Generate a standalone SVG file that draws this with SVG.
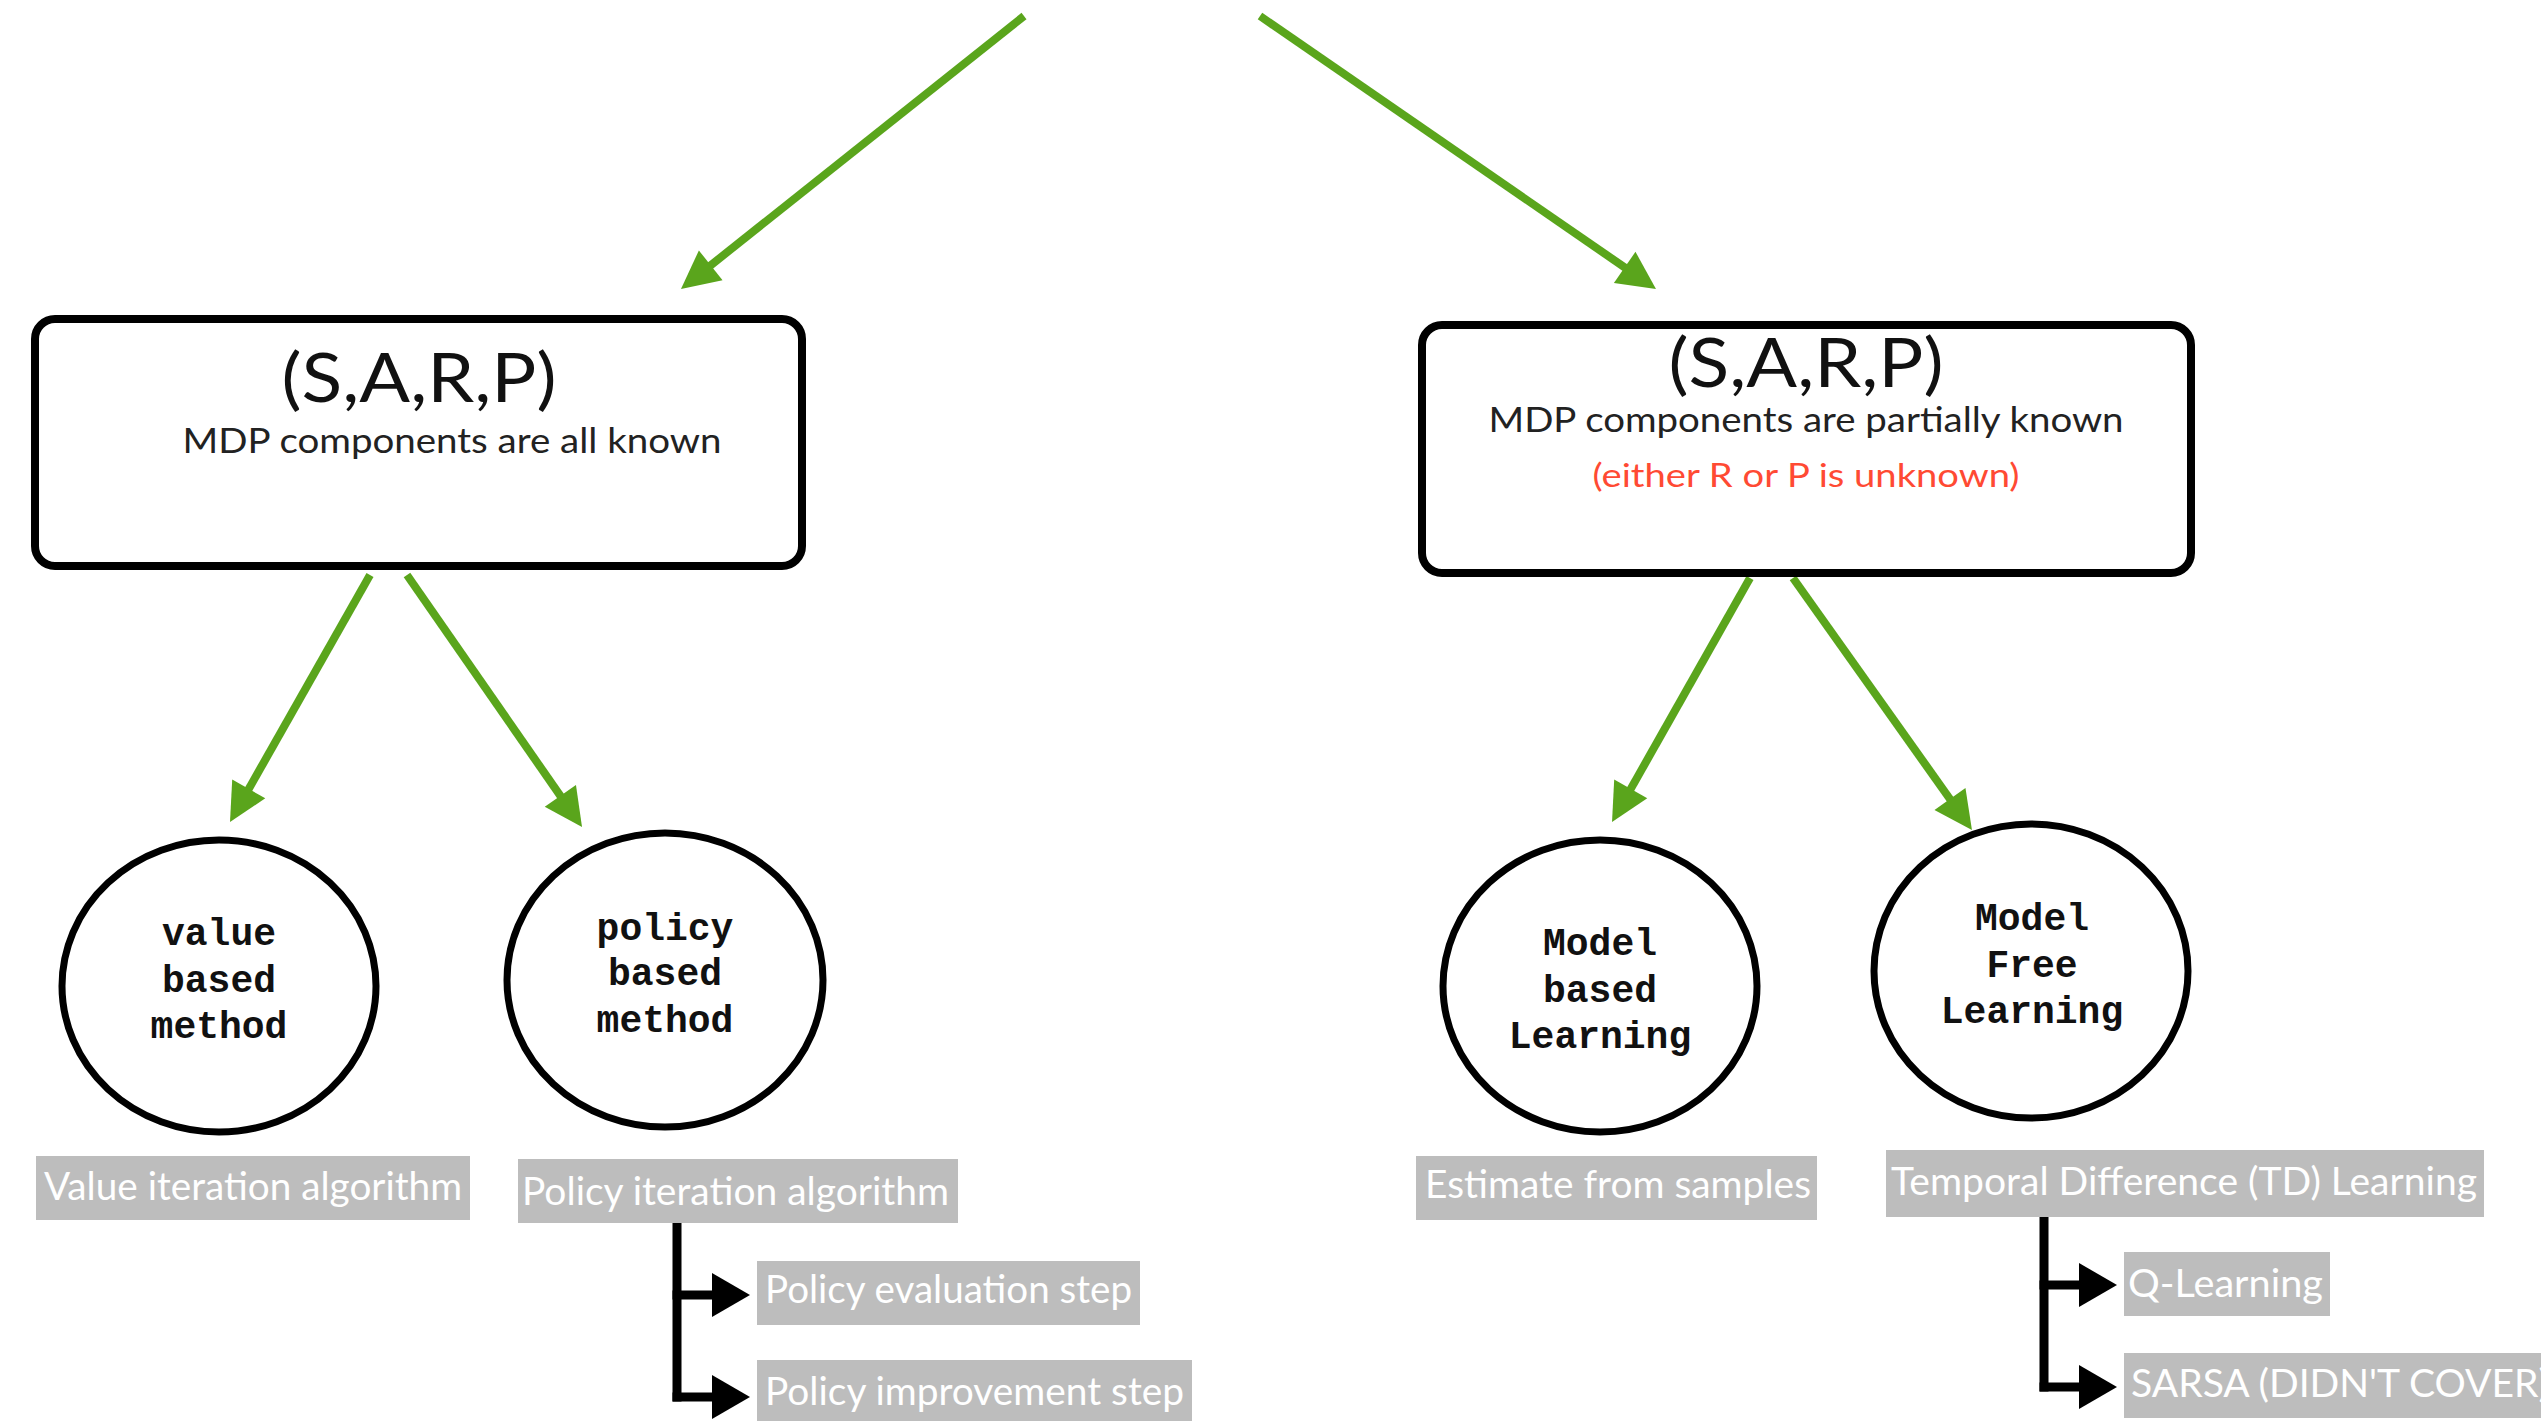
<svg xmlns="http://www.w3.org/2000/svg" width="2541" height="1421" viewBox="0 0 2541 1421">
<defs>
<marker id="gh" markerUnits="userSpaceOnUse" markerWidth="40" markerHeight="40" refX="22" refY="19" orient="auto" overflow="visible">
<path d="M0,0 L38,19 L0,38 z" fill="#5aa51c"/>
</marker>
<marker id="bh" markerUnits="userSpaceOnUse" markerWidth="40" markerHeight="46" refX="23" refY="22" orient="auto" overflow="visible">
<path d="M0,0 L38,22 L0,44 z" fill="#000"/>
</marker>
<style>
.box{fill:#fff;stroke:#000;stroke-width:8}
.circ{fill:#fff;stroke:#000;stroke-width:7}
.title{font-family:Lato,"Noto Sans",sans-serif;font-size:68px;fill:#111;text-anchor:middle}
.sub{font-family:Lato,"Noto Sans",sans-serif;font-size:35px;fill:#222;text-anchor:middle}
.red{font-family:Lato,"Noto Sans",sans-serif;font-size:32px;fill:#ff4a33;text-anchor:middle}
.mono{font-family:"Liberation Mono","DejaVu Sans Mono",monospace;font-size:38px;font-weight:bold;fill:#111;text-anchor:middle}
.lab{fill:#bdbdbd}
.lt{font-family:Lato,"Noto Sans",sans-serif;font-size:38px;fill:#fff}
.g{stroke:#5aa51c;stroke-width:8;fill:none;marker-end:url(#gh)}
.k{stroke:#000;stroke-width:9;fill:none}
.ka{stroke:#000;stroke-width:9;fill:none;marker-end:url(#bh)}
</style>
</defs>
<rect width="2541" height="1421" fill="#fff"/>

<g id="connectors">
<line class="g" x1="1024" y1="16" x2="693.5" y2="279"/>
<line class="g" x1="1260" y1="16" x2="1642.8" y2="279.9"/>
<line class="g" x1="370" y1="575" x2="237.9" y2="808.1"/>
<line class="g" x1="407" y1="575" x2="572.9" y2="813.9"/>
<line class="g" x1="1750" y1="578" x2="1619.9" y2="808.1"/>
<line class="g" x1="1793" y1="578" x2="1962.7" y2="817"/>
<line class="k" x1="677" y1="1223" x2="677" y2="1401.5"/>
<line class="ka" x1="672.5" y1="1295" x2="735" y2="1295"/>
<line class="ka" x1="672.5" y1="1397" x2="735" y2="1397"/>
<line class="k" x1="2044" y1="1217" x2="2044" y2="1391.5"/>
<line class="ka" x1="2039.5" y1="1285" x2="2102" y2="1285"/>
<line class="ka" x1="2039.5" y1="1387" x2="2102" y2="1387"/>
</g>

<g id="box-known">
<rect class="box" x="35" y="319" width="767" height="247" rx="20"/>
<text class="title" x="419" y="402" textLength="275" lengthAdjust="spacingAndGlyphs">(S,A,R,P)</text>
<text class="sub" x="452" y="453" textLength="539" lengthAdjust="spacingAndGlyphs">MDP components are all known</text>
</g>

<g id="box-partial">
<rect class="box" x="1422" y="325" width="769" height="248" rx="20"/>
<text class="title" x="1806" y="387" textLength="275" lengthAdjust="spacingAndGlyphs">(S,A,R,P)</text>
<text class="sub" x="1806" y="432" textLength="635" lengthAdjust="spacingAndGlyphs">MDP components are partially known</text>
<text class="red" x="1806" y="487" textLength="427" lengthAdjust="spacingAndGlyphs">(either R or P is unknown)</text>
</g>

<g id="node-value">
<ellipse class="circ" cx="219" cy="986" rx="157" ry="146"/>
<text class="mono" x="219" y="945">value</text>
<text class="mono" x="219" y="992">based</text>
<text class="mono" x="219" y="1038">method</text>
</g>

<g id="node-policy">
<ellipse class="circ" cx="665" cy="980" rx="158" ry="147"/>
<text class="mono" x="665" y="940">policy</text>
<text class="mono" x="665" y="985">based</text>
<text class="mono" x="665" y="1032">method</text>
</g>

<g id="node-model-based">
<ellipse class="circ" cx="1600" cy="986" rx="157" ry="146"/>
<text class="mono" x="1600" y="955">Model</text>
<text class="mono" x="1600" y="1002">based</text>
<text class="mono" x="1600" y="1048">Learning</text>
</g>

<g id="node-model-free">
<ellipse class="circ" cx="2031" cy="971" rx="157" ry="147"/>
<text class="mono" x="2032" y="930">Model</text>
<text class="mono" x="2032" y="977">Free</text>
<text class="mono" x="2032" y="1023">Learning</text>
</g>

<g id="label-value-iteration">
<rect class="lab" x="36" y="1156" width="434" height="64"/>
<text class="lt" x="44" y="1200" textLength="418" lengthAdjust="spacingAndGlyphs">Value iteration algorithm</text>
</g>
<g id="label-policy-iteration">
<rect class="lab" x="518" y="1159" width="440" height="64"/>
<text class="lt" x="522" y="1205" textLength="427" lengthAdjust="spacingAndGlyphs">Policy iteration algorithm</text>
</g>
<g id="label-policy-evaluation">
<rect class="lab" x="757" y="1261" width="383" height="64"/>
<text class="lt" x="765" y="1303" textLength="367" lengthAdjust="spacingAndGlyphs">Policy evaluation step</text>
</g>
<g id="label-policy-improvement">
<rect class="lab" x="757" y="1360" width="435" height="70"/>
<text class="lt" x="765" y="1405" textLength="419" lengthAdjust="spacingAndGlyphs">Policy improvement step</text>
</g>
<g id="label-estimate">
<rect class="lab" x="1416" y="1156" width="401" height="64"/>
<text class="lt" x="1425" y="1198" textLength="386" lengthAdjust="spacingAndGlyphs">Estimate from samples</text>
</g>
<g id="label-td">
<rect class="lab" x="1886" y="1150" width="598" height="67"/>
<text class="lt" x="1891" y="1195" textLength="586" lengthAdjust="spacingAndGlyphs">Temporal Difference (TD) Learning</text>
</g>
<g id="label-q">
<rect class="lab" x="2124" y="1252" width="206" height="64"/>
<text class="lt" x="2128" y="1297" textLength="195" lengthAdjust="spacingAndGlyphs">Q-Learning</text>
</g>
<g id="label-sarsa">
<rect class="lab" x="2124" y="1353" width="430" height="65"/>
<text class="lt" x="2131" y="1397" textLength="418" lengthAdjust="spacingAndGlyphs">SARSA (DIDN'T COVER)</text>
</g>
</svg>
